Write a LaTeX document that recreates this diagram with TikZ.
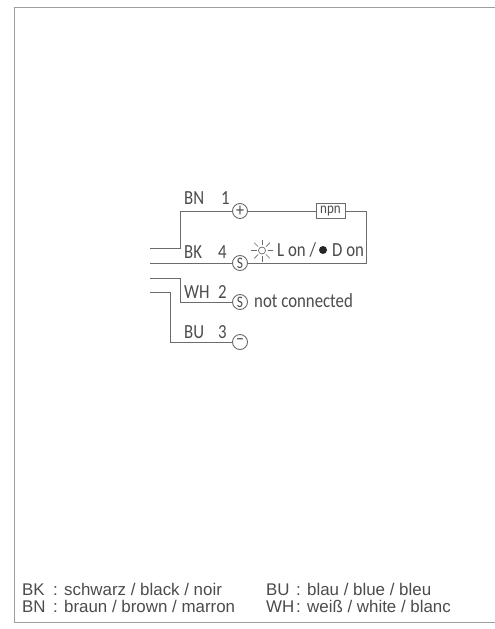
\documentclass[tikz,border=0pt]{standalone}
\usepackage{fontspec}
\setmainfont[FakeStretch=0.84]{Carlito}
\newfontfamily\legendfont{Liberation Sans}
\definecolor{wire}{gray}{0.42}
\definecolor{ink}{gray}{0.3}
\definecolor{frame}{gray}{0.62}
\tikzset{
  x=1pt,y=-1pt,
  wireline/.style={draw=wire,line width=1pt},
  term/.style={circle,draw=wire,line width=0.9pt,minimum size=15pt,inner sep=0pt,text=ink,font=\fontsize{16}{16}\selectfont},
  lab/.style={anchor=base west,inner sep=0pt,text=ink,font=\fontsize{20}{20}\selectfont},
  legend/.style={anchor=base west,inner sep=0pt,text=ink,font=\legendfont\fontsize{16.9}{17}\selectfont},
  boxnode/.style={draw=wire,line width=0.9pt,minimum width=29pt,minimum height=15pt,inner sep=0pt,text=ink,font=\fontsize{15.5}{15.5}\selectfont}
}
\begin{document}
\begin{tikzpicture}
\useasboundingbox (0,0) rectangle (495,629);
\fill[white] (0,0) rectangle (495,629);
\draw[frame,line width=1pt] (495,7) -- (14.5,7) -- (14.5,622) -- (495,622);
% terminals
\node[term,font=\fontsize{19}{19}\selectfont] (tp) at (240,211) {+};
\node[term] (ts1) at (240,263) {S};
\node[term] (ts2) at (240,302) {S};
\node[term,font=\fontsize{19}{19}\selectfont] (tm) at (240,342) {--};
\node[boxnode] (npn) at (330.5,211) {npn};
% free ends
\coordinate (ebn) at (150,248);
\coordinate (ebk) at (150,263);
\coordinate (ewh) at (150,278);
\coordinate (ebu) at (150,292.5);
\coordinate (cr) at (366,211);
% wires
\draw[wireline] (ebn) -- (180,248) -- (180,211) -- (tp);
\draw[wireline] (ebk) -- (ts1);
\draw[wireline] (ewh) -- (180,278) -- (180,302) -- (ts2);
\draw[wireline] (ebu) -- (170.5,292.5) -- (170.5,342) -- (tm);
\draw[wireline] (tp) -- (npn);
\draw[wireline] (npn) -- (cr) -- (366,263) -- (ts1);
% labels
\node[lab] (l1) at (184,204) {BN};
\node[lab] (l2) at (221,204) {1};
\node[lab] (l3) at (184,258) {BK};
\node[lab] (l4) at (218,258) {4};
\node[lab] (l5) at (184,298) {WH};
\node[lab] (l6) at (218,298) {2};
\node[lab] (l7) at (184,338) {BU};
\node[lab] (l8) at (218,338) {3};
% sun
\node[circle,draw=wire,line width=0.7pt,minimum size=7pt,inner sep=0pt] (sun) at (262,250.5) {};
\foreach \a in {0,45,...,315}
  \draw[wire,line width=0.7pt] (sun) ++(\a:5.5) -- ++(\a:5.5);
\node[lab] (lon) at (277,256.5) {L on /};
\node[circle,fill=black!85,minimum size=8pt,inner sep=0pt] (dot) at (323,250) {};
\node[lab] (don) at (332,256.5) {D on};
\node[lab] (nc) at (254,307) {not connected};
% legend
\node[legend] (a1) at (22,595) {BK};
\node[legend] (a2) at (53,595) {: schwarz / black / noir};
\node[legend] (a3) at (22,612) {BN};
\node[legend] (a4) at (53,612) {: braun / brown / marron};
\node[legend] (b1) at (266,595) {BU};
\node[legend] (b2) at (296,595) {: blau / blue / bleu};
\node[legend] (b3) at (266,612) {WH};
\node[legend] (b4) at (296,612) {: weiß / white / blanc};
\end{tikzpicture}
\end{document}
